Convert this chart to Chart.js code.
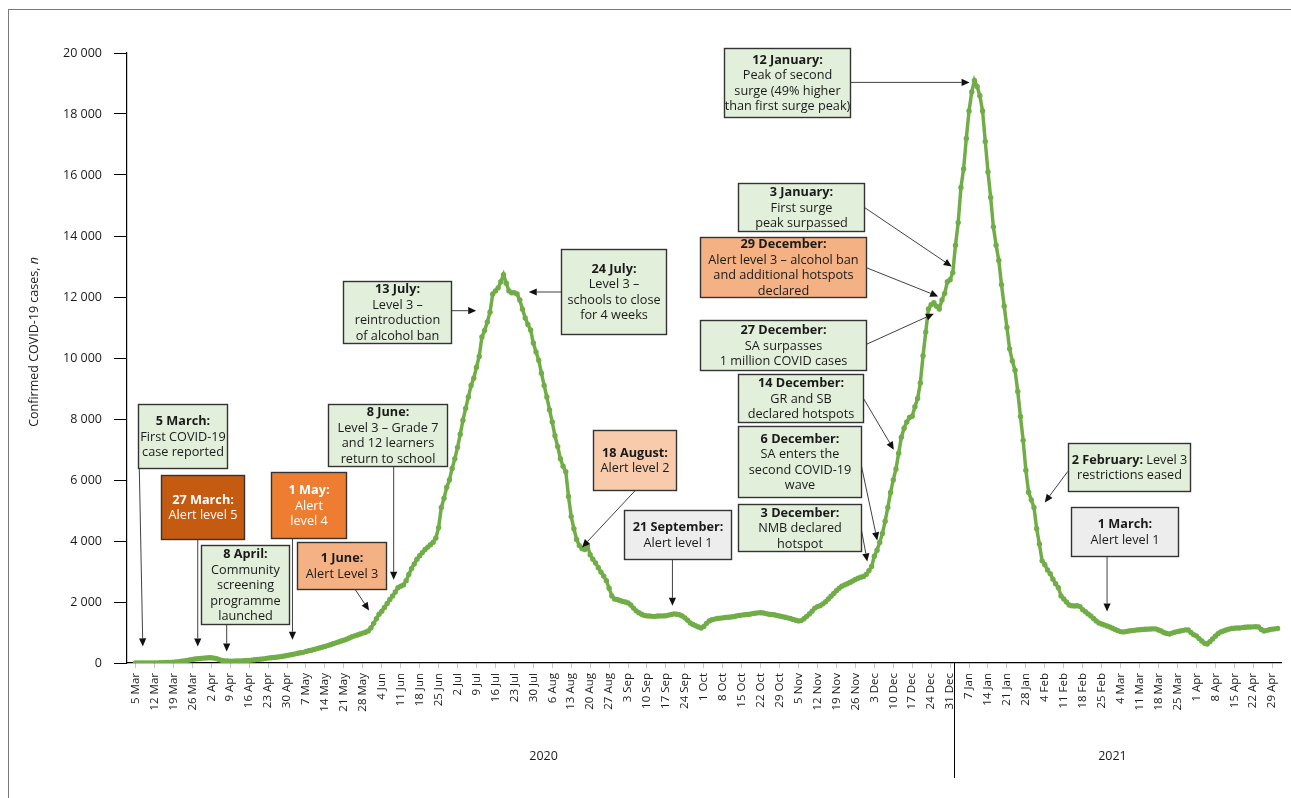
<!DOCTYPE html>
<html>
<head>
<meta charset="utf-8">
<style>
  html, body { margin: 0; padding: 0; background: #ffffff; }
  canvas { display: block; }
</style>
<script src="https://cdn.jsdelivr.net/npm/chart.js@4.4.1/dist/chart.umd.min.js"></script>
</head>
<body>
<canvas id="c" width="1291" height="798"></canvas>
<script>
// ---- Data (daily values from 5 Mar 2020, day index 0) ----
const weekLabels = ['5 Mar','12 Mar','19 Mar','26 Mar','2 Apr','9 Apr','16 Apr','23 Apr','30 Apr','7 May','14 May','21 May','28 May','4 Jun','11 Jun','18 Jun','25 Jun','2 Jul','9 Jul','16 Jul','23 Jul','30 Jul','6 Aug','13 Aug','20 Aug','27 Aug','3 Sep','10 Sep','17 Sep','24 Sep','1 Oct','8 Oct','15 Oct','22 Oct','29 Oct','5 Nov','12 Nov','19 Nov','26 Nov','3 Dec','10 Dec','17 Dec','24 Dec','31 Dec','7 Jan','14 Jan','21 Jan','28 Jan','4 Feb','11 Feb','18 Feb','25 Feb','4 Mar','11 Mar','18 Mar','25 Mar','1 Apr','8 Apr','15 Apr','22 Apr','29 Apr'];

const yearLabels = ['2020', '2021'];
const yearCentreDays = [150.8, 361];
const yearBreakDay = 302.5;

const cases = [
  0,0,1,1,2,2,3,
  4,5,8,10,14,18,22,
  27,35,42,55,70,85,100,
  115,130,140,150,160,165,170,
  170,160,140,110,85,70,65,
  62,60,65,68,70,75,80,
  85,95,105,115,125,135,145,
  160,170,180,190,200,215,230,
  245,265,280,300,320,335,350,
  380,400,420,445,470,495,520,
  545,570,600,630,660,690,720,
  750,780,820,860,890,920,950,
  980,1010,1050,1150,1300,1450,1600,
  1700,1820,1950,2080,2200,2330,2470,
  2520,2560,2700,2900,3100,3250,3400,
  3520,3620,3720,3800,3880,3960,4100,
  4440,5100,5400,5760,6000,6380,6700,
  7070,7500,7960,8350,8720,9100,9340,
  9700,10050,10690,10900,11180,11500,12100,
  12200,12300,12500,12730,12450,12200,12140,
  12140,12100,11900,11600,11315,11100,10920,
  10490,10200,9930,9500,9100,8720,8300,
  7900,7450,7100,6700,6450,6270,5460,
  4800,4400,4050,3850,3750,3720,3850,
  3550,3400,3280,3125,2980,2850,2700,
  2450,2200,2100,2080,2050,2020,2000,
  1970,1900,1800,1710,1650,1600,1560,
  1545,1540,1530,1530,1540,1545,1545,
  1550,1570,1590,1610,1600,1580,1545,
  1480,1400,1315,1260,1220,1180,1150,
  1200,1300,1380,1420,1440,1460,1470,
  1480,1490,1500,1510,1520,1540,1560,
  1570,1580,1590,1600,1620,1630,1645,
  1650,1640,1620,1600,1590,1580,1560,
  1540,1520,1500,1480,1460,1430,1400,
  1380,1390,1450,1530,1610,1700,1800,
  1850,1880,1940,2010,2100,2190,2280,
  2370,2450,2520,2560,2600,2640,2690,
  2740,2780,2810,2840,2900,3025,3165,
  3500,3700,3950,4250,4650,5100,5590,
  6000,6360,6880,7400,7700,7900,8050,
  8090,8400,8670,9180,10075,10850,11610,
  11750,11810,11700,11610,11900,12120,12500,
  12565,12800,13700,14440,15590,16200,17200,
  18100,18720,19100,18900,18600,18100,17100,
  16100,15260,14300,13700,13200,12400,11700,
  11000,10300,9900,9600,8900,8080,7300,
  6320,5600,5350,5100,4400,3900,3350,
  3225,3050,2930,2750,2600,2470,2200,
  2100,2000,1900,1875,1870,1875,1850,
  1750,1680,1610,1540,1460,1380,1315,
  1280,1250,1215,1180,1140,1100,1060,
  1030,1020,1030,1050,1060,1070,1085,
  1090,1100,1105,1110,1115,1120,1118,
  1080,1050,1000,970,950,980,1010,
  1030,1050,1070,1085,1080,1000,930,
  890,800,720,650,625,700,790,
  880,960,1020,1050,1080,1110,1130,
  1140,1150,1150,1160,1170,1180,1180,
  1185,1190,1180,1100,1050,1070,1090,
  1110,1120,1130
];
const days = cases.map((_, i) => i);

// ---- Annotations: box [dayLeft, valueTop, dayRight, valueBottom], arrow from/to [day, value] ----
const notes = [
  {head:'5 March:', body:['First COVID-19','case reported'], tone:'green', box:[0.8,8502,33.9,6393], from:[1.4,6393], to:[2.7,544]},
  {head:'27 March:', body:['Alert level 5'], tone:'dark', box:[9.4,6174,40.0,4066], from:[23,4066], to:[23,544]},
  {head:'8 April:', body:['Community','screening','programme','launched'], tone:'green', box:[24.1,3856,56.8,1289], from:[33.7,1289], to:[33.7,380]},
  {head:'1 May:', body:['Alert','level 4'], tone:'orange', box:[50.1,6249,77.6,4098], from:[58,4098], to:[58,764]},
  {head:'1 June:', body:['Alert Level 3'], tone:'peach', box:[59.7,3954,92.7,2436], from:[81,2436], to:[86.3,1725]},
  {head:'8 June:', body:['Level 3 \u2013 Grade 7','and 12 learners','return to school'], tone:'green', box:[71.3,8502,115.2,6469], from:[95.4,6469], to:[95.4,2731]},
  {head:'13 July:', body:['Level 3 \u2013','reintroduction','of alcohol ban'], tone:'green', box:[76.5,12511,116.7,10492], from:[116.7,11551], to:[125.9,11551]},
  {head:'24 July:', body:['Level 3 \u2013','schools to close','for 4 weeks'], tone:'green', box:[157.3,13584,196.0,10787], from:[157.3,12164], to:[145.3,12164]},
  {head:'18 August:', body:['Alert level 2'], tone:'lightpeach', box:[168.9,7649,199.9,5659], from:[184.7,5659], to:[165,3790]},
  {head:'21 September:', body:['Alert level 1'], tone:'grey', box:[180.4,5003,220.2,3410], from:[198.4,3410], to:[198.4,1879]},
  {head:'12 January:', body:['Peak of second','surge (49% higher','than first surge peak)'], tone:'green', box:[217.5,20164,264.0,17902], from:[264.0,19036], to:[308.2,19036]},
  {head:'3 January:', body:['First surge','peak surpassed'], tone:'green', box:[222.8,15738,269.3,14151], from:[269.3,14938], to:[301.6,13003]},
  {head:'29 December:', body:['Alert level 3 \u2013 alcohol ban','and additional hotspots','declared'], tone:'peach', box:[208.7,13967,269.8,11987], from:[269.8,12970], to:[296.6,12020]},
  {head:'27 December:', body:['SA surpasses','1 million COVID cases'], tone:'green', box:[208.7,11233,269.8,9616], from:[269.8,10436], to:[295.0,11452]},
  {head:'14 December:', body:['GR and SB','declared hotspots'], tone:'green', box:[222.8,9485,268.9,7902], from:[268.9,8689], to:[280.2,6993]},
  {head:'6 December:', body:['SA enters the','second COVID-19','wave'], tone:'green', box:[222.8,7780,268.0,5443], from:[268.0,6557], to:[274.1,4020]},
  {head:'3 December:', body:['NMB declared','hotspot'], tone:'green', box:[222.8,5223,268.0,3659], from:[268.0,4479], to:[270.4,3331]},
  {head:'2 February:', headTail:' Level 3', body:['restrictions eased'], tone:'green', box:[344.5,7213,389.5,5626], from:[344.5,6282], to:[336.0,5266]},
  {head:'1 March:', body:['Alert level 1'], tone:'grey', box:[345.5,5102,385.1,3495], from:[359.0,3495], to:[359.0,1692]}
];

// ---- Styles ----
const GREEN = '#70AD47';
const TONES = {
  green: {fill:'#E2EFDA', text:'#1a1a1a'},
  dark: {fill:'#C55A11', text:'#ffffff'},
  orange: {fill:'#ED7D31', text:'#ffffff'},
  peach: {fill:'#F4B183', text:'#1a1a1a'},
  lightpeach: {fill:'#F8CBAD', text:'#1a1a1a'},
  grey: {fill:'#EDEDED', text:'#1a1a1a'}
};
const FONT = "'Open Sans', sans-serif";
const NOTE_SIZE = 12.7;

function fmtThousands(v) {
  if (v === 0) return '0';
  return (v / 1000) + ' 000';
}

function arrow(ctx, x0, y0, x1, y1) {
  const ang = Math.atan2(y1 - y0, x1 - x0);
  const hl = 8, hw = 3.6;
  const bx = x1 - hl * Math.cos(ang), by = y1 - hl * Math.sin(ang);
  ctx.beginPath();
  ctx.moveTo(x0, y0);
  ctx.lineTo(bx, by);
  ctx.stroke();
  ctx.beginPath();
  ctx.moveTo(x1, y1);
  ctx.lineTo(bx + hw * Math.sin(ang), by - hw * Math.cos(ang));
  ctx.lineTo(bx - hw * Math.sin(ang), by + hw * Math.cos(ang));
  ctx.closePath();
  ctx.fill();
}

const overlay = {
  id: 'overlay',
  afterDraw(chart) {
    const ctx = chart.ctx;
    const xs = chart.scales.x, ys = chart.scales.y;
    ctx.save();

    // outer frame
    ctx.strokeStyle = '#7a7a7a';
    ctx.lineWidth = 1;
    ctx.strokeRect(8.5, 9.5, 1320, 820);

    // y-axis title with italic n
    ctx.save();
    ctx.translate(34, 342);
    ctx.rotate(-Math.PI / 2);
    ctx.fillStyle = '#1a1a1a';
    ctx.textBaseline = 'middle';
    const t1 = 'Confirmed COVID-19 cases, ';
    const t2 = 'n';
    ctx.font = "12.5px " + FONT;
    const w1 = ctx.measureText(t1).width;
    ctx.font = "italic 12.5px " + FONT;
    const w2 = ctx.measureText(t2).width;
    let sx = -(w1 + w2) / 2;
    ctx.font = "12.5px " + FONT;
    ctx.textAlign = 'left';
    ctx.fillText(t1, sx, 0);
    ctx.font = "italic 12.5px " + FONT;
    ctx.fillText(t2, sx + w1, 0);
    ctx.restore();

    // year separator and year labels
    const bx = Math.round(xs.getPixelForValue(yearBreakDay)) + 0.5;
    ctx.strokeStyle = '#000';
    ctx.lineWidth = 1;
    ctx.beginPath();
    ctx.moveTo(bx, chart.chartArea.bottom);
    ctx.lineTo(bx, 778);
    ctx.stroke();
    ctx.fillStyle = '#1a1a1a';
    ctx.font = "12.5px " + FONT;
    ctx.textAlign = 'center';
    ctx.textBaseline = 'middle';
    yearLabels.forEach((lab, i) => {
      ctx.fillText(lab, xs.getPixelForValue(yearCentreDays[i]), 756);
    });

    // annotations
    const lh = 15.5;
    notes.forEach(n => {
      const tone = TONES[n.tone];
      const L = Math.round(xs.getPixelForValue(n.box[0])) + 0.5;
      const R = Math.round(xs.getPixelForValue(n.box[2])) + 0.5;
      const T = Math.round(ys.getPixelForValue(n.box[1])) + 0.5;
      const B = Math.round(ys.getPixelForValue(n.box[3])) + 0.5;
      // arrow
      ctx.strokeStyle = '#2b2b2b';
      ctx.fillStyle = '#111';
      ctx.lineWidth = 0.9;
      arrow(ctx, xs.getPixelForValue(n.from[0]), ys.getPixelForValue(n.from[1]),
                 xs.getPixelForValue(n.to[0]), ys.getPixelForValue(n.to[1]));
      // box
      ctx.fillStyle = tone.fill;
      ctx.fillRect(L, T, R - L, B - T);
      ctx.strokeStyle = '#333';
      ctx.lineWidth = 1.4;
      ctx.strokeRect(L, T, R - L, B - T);
      // text
      const nLines = 1 + n.body.length;
      const cx = (L + R) / 2;
      let y = (T + B) / 2 - (nLines * lh) / 2 + lh / 2 + 0.5;
      ctx.fillStyle = tone.text;
      ctx.textBaseline = 'middle';
      const bold = "bold " + NOTE_SIZE + "px " + FONT;
      const reg = NOTE_SIZE + "px " + FONT;
      ctx.font = bold;
      const hw = ctx.measureText(n.head).width;
      let tw = 0;
      if (n.headTail) {
        ctx.font = reg;
        tw = ctx.measureText(n.headTail).width;
      }
      let x = cx - (hw + tw) / 2;
      ctx.textAlign = 'left';
      ctx.font = bold;
      ctx.fillText(n.head, x, y);
      if (n.headTail) {
        ctx.font = reg;
        ctx.fillText(n.headTail, x + hw, y);
      }
      y += lh;
      ctx.font = reg;
      ctx.textAlign = 'center';
      n.body.forEach(line => {
        ctx.fillText(line, cx, y);
        y += lh;
      });
    });
    ctx.restore();
  }
};

Chart.defaults.font.family = FONT;
Chart.defaults.color = '#1a1a1a';

new Chart(document.getElementById('c'), {
  type: 'line',
  data: {
    datasets: [{
      data: days.map((d, i) => ({x: d, y: cases[i]})),
      borderColor: GREEN,
      backgroundColor: GREEN,
      borderWidth: 3.5,
      pointRadius: 2.7,
      pointBorderWidth: 0,
      pointBackgroundColor: GREEN,
      tension: 0,
      fill: false
    }]
  },
  options: {
    responsive: false,
    animation: false,
    devicePixelRatio: 1,
    layout: { padding: { left: 0, top: 53, right: 8, bottom: 0 } },
    plugins: { legend: { display: false }, tooltip: { enabled: false } },
    scales: {
      x: {
        type: 'linear',
        min: -3.14,
        max: 423.4,
        afterFit(scale) { scale.height = 135; },
        grid: { drawOnChartArea: false, tickLength: 5, color: '#c4c4c4', lineWidth: 1 },
        border: { display: true, color: '#000', width: 1.2 },
        ticks: {
          stepSize: 7,
          includeBounds: false,
          autoSkip: false,
          minRotation: 90,
          maxRotation: 90,
          padding: 5,
          font: { size: 11.5 },
          color: '#1a1a1a',
          callback: (v) => {
            const i = Math.round(v / 7);
            return (Math.abs(v - i * 7) < 0.01 && weekLabels[i]) ? weekLabels[i] : '';
          }
        }
      },
      y: {
        min: 0,
        max: 20000,
        afterFit(scale) { scale.width = 127; },
        grid: { drawOnChartArea: false, tickLength: 13, color: '#000', lineWidth: 1 },
        border: { display: true, color: '#000', width: 1.2 },
        ticks: {
          stepSize: 2000,
          padding: 12,
          font: { size: 12.5 },
          color: '#1a1a1a',
          callback: (v) => fmtThousands(v)
        }
      }
    }
  },
  plugins: [overlay]
});
</script>
</body>
</html>
